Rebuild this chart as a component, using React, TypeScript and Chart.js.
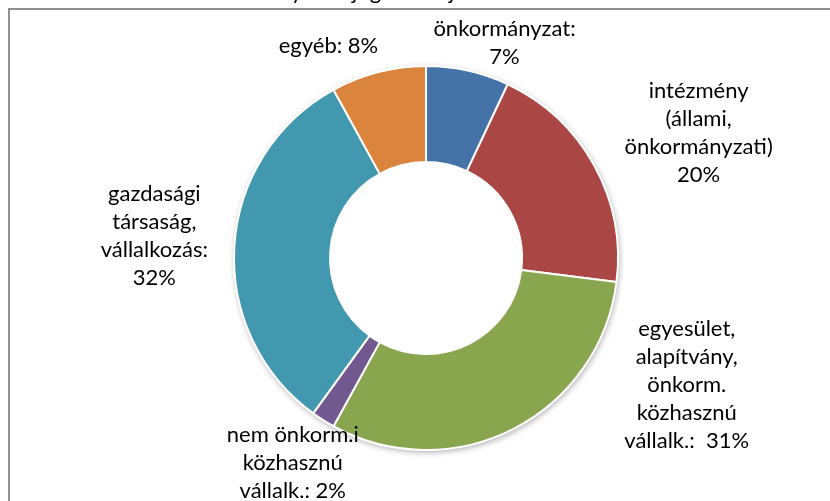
import React, { useEffect, useRef } from "react";
import { Chart, registerables } from "chart.js";

Chart.register(...registerables);

const categories = [
  "önkormányzat",
  "intézmény (állami, önkormányzati)",
  "egyesület, alapítvány, önkorm. közhasznú vállalk.",
  "nem önkorm.i közhasznú vállalk.",
  "gazdasági társaság, vállalkozás",
  "egyéb",
];
const values = [7, 20, 31, 2, 32, 8];
const labelLines = [
  ["önkormányzat:", "7%"],
  ["intézmény", "(állami,", "önkormányzati)", "20%"],
  ["egyesület,", "alapítvány,", "önkorm.", "közhasznú", "vállalk.:  31%"],
  ["nem önkorm.i", "közhasznú", "vállalk.: 2%"],
  ["gazdasági", "társaság,", "vállalkozás:", "32%"],
  ["egyéb: 8%"],
];
const colors = ["#4572A7", "#AA4643", "#89A54E", "#71588F", "#4198AF", "#DB843D"];
const titleText = "Pályázók jogi formája";

// label block centres relative to the doughnut centre, in units of outer radius
const labelOffsets = [
  [0.409, -1.12],
  [1.42, -0.65],
  [1.358, 0.661],
  [-0.694, 1.067],
  [-1.415, -0.114],
  [-0.508, -1.104],
];

const FONT = "Lato, 'Open Sans', sans-serif";

const shadowPlugin = {
  id: "shadowRing",
  beforeDatasetsDraw(chart: any) {
    const meta = chart.getDatasetMeta(0);
    const arc = meta.data[0];
    if (!arc) return;
    const { x, y, outerRadius } = arc.getProps(["x", "y", "outerRadius"], true);
    const ctx = chart.ctx;
    ctx.save();
    ctx.shadowColor = "rgba(0,0,0,0.35)";
    ctx.shadowBlur = 6;
    ctx.shadowOffsetX = 1;
    ctx.shadowOffsetY = 2;
    ctx.fillStyle = "#ffffff";
    ctx.beginPath();
    ctx.arc(x, y, outerRadius, 0, Math.PI * 2);
    ctx.fill();
    ctx.restore();
  },
};

const labelPlugin = {
  id: "outsideLabels",
  afterDatasetsDraw(chart: any) {
    const meta = chart.getDatasetMeta(0);
    const ctx = chart.ctx;
    const lineH = 28;
    ctx.save();
    ctx.fillStyle = "#000000";
    ctx.font = `22px ${FONT}`;
    ctx.textAlign = "center";
    ctx.textBaseline = "middle";
    meta.data.forEach((arc: any, i: number) => {
      const { x, y, outerRadius } = arc.getProps(["x", "y", "outerRadius"], true);
      const lines = labelLines[i];
      const cx = x + labelOffsets[i][0] * outerRadius;
      const cy = y + labelOffsets[i][1] * outerRadius;
      const top = cy - ((lines.length - 1) * lineH) / 2;
      lines.forEach((t, j) => ctx.fillText(t, cx, top + j * lineH));
    });
    // chart title, mostly outside the visible frame
    ctx.font = `22px ${FONT}`;
    ctx.textAlign = "left";
    ctx.textBaseline = "alphabetic";
    ctx.fillText(titleText, 262, -1);
    ctx.restore();
  },
};

export default function App() {
  const ref = useRef<HTMLCanvasElement>(null);
  useEffect(() => {
    if (!ref.current) return;
    const chart = new Chart(ref.current, {
      type: "doughnut",
      data: {
        labels: categories,
        datasets: [
          {
            data: values,
            backgroundColor: colors,
            borderColor: "#ffffff",
            borderWidth: 2,
          },
        ],
      },
      options: {
        responsive: false,
        maintainAspectRatio: false,
        animation: false,
        cutout: "50%",
        rotation: 0,
        layout: { padding: { top: 65, bottom: 50, left: 233, right: 211 } },
        plugins: {
          legend: { display: false },
          tooltip: { enabled: false },
          title: { display: false },
        },
      },
      plugins: [shadowPlugin, labelPlugin],
    });
    return () => chart.destroy();
  }, []);
  return (
    <div
      style={{
        position: "fixed",
        left: 0,
        top: 0,
        width: 830,
        height: 501,
        overflow: "hidden",
        background: "#ffffff",
      }}
    >
      <canvas ref={ref} width={830} height={501} style={{ position: "absolute", left: 0, top: 0 }} />
      <div
        style={{
          position: "absolute",
          left: 8,
          top: 8,
          width: 840,
          height: 520,
          borderLeft: "2px solid #8f8f8f",
          borderTop: "2px solid #8f8f8f",
          pointerEvents: "none",
        }}
      />
    </div>
  );
}
